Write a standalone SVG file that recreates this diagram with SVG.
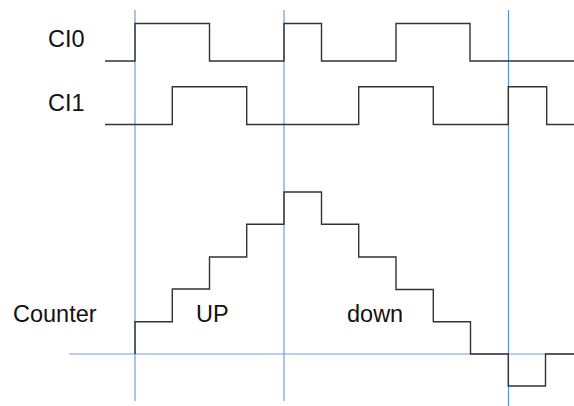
<svg xmlns="http://www.w3.org/2000/svg" width="574" height="406" viewBox="0 0 574 406">
<style>
.guide{stroke:#6f9de0;stroke-width:1.2;fill:none}
.sig{stroke:#333;stroke-width:1.4;fill:none}
.lbl{font-family:"Liberation Sans",Arial,sans-serif;font-size:23.5px;fill:#111}
</style>
<rect width="574" height="406" fill="#fff"/>
<g id="guides">
<line class="guide" x1="135" y1="10" x2="135" y2="401"/>
<line class="guide" x1="284" y1="10" x2="284" y2="401"/>
<line class="guide" x1="508.5" y1="10" x2="508.5" y2="406" style="stroke:#5a8ee6"/>
<line class="guide" x1="69" y1="354" x2="574" y2="354"/>
</g>
<g id="CI0">
<text class="lbl" x="48" y="47">CI0</text>
<path class="sig" d="M105,61 H135 V23.5 H209.5 V61 H284 V23.5 H321.5 V61 H396 V23.5 H470 V61 H574"/>
</g>
<g id="CI1">
<text class="lbl" x="48" y="111">CI1</text>
<path class="sig" d="M105,124.5 H172.3 V86.7 H246.7 V124.5 H358.7 V86.7 H433.3 V124.5 H508.3 V86.7 H546.7 V124.5 H574"/>
</g>
<g id="Counter">
<text class="lbl" x="13" y="322">Counter</text>
<text class="lbl" x="196" y="322">UP</text>
<text class="lbl" x="347" y="322">down</text>
<path class="sig" d="M135,354 V321.7 H172.3 V289 H209.5 V257 H246.7 V224.3 H284 V192 H321.5 V224.3 H358.7 V257 H396 V289.5 H433.3 V321.7 H470.5 V354 H508.3 V386 H545.5 V354 H574"/>
</g>
</svg>
